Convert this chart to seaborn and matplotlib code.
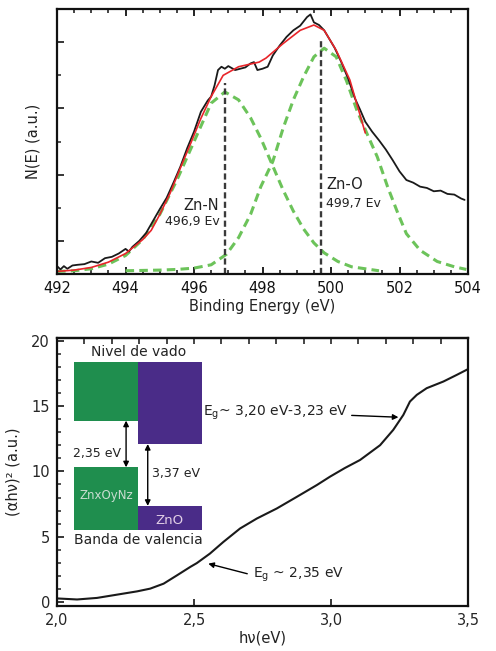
import numpy as np
import pandas as pd
import matplotlib
matplotlib.use("Agg")
import matplotlib.pyplot as plt
import seaborn as sns
from matplotlib.ticker import MultipleLocator, FixedLocator, FuncFormatter
from matplotlib.patches import Rectangle

# --- top panel: XPS spectrum ---
be_exp = [492.0, 492.1, 492.2, 492.3, 492.45, 492.6, 492.8, 493.0, 493.2, 493.4, 493.6, 493.8,
          494.0, 494.1, 494.2, 494.4, 494.6, 494.8, 495.0, 495.2, 495.4, 495.6, 495.8, 496.0,
          496.2, 496.4, 496.5, 496.6, 496.7, 496.8, 496.9, 497.0, 497.2, 497.35, 497.5, 497.65,
          497.75, 497.85, 498.0, 498.15, 498.3, 498.5, 498.7, 498.9, 499.1, 499.3, 499.4, 499.5,
          499.65, 499.8, 499.95, 500.1, 500.3, 500.5, 500.7, 500.85, 501.0, 501.2, 501.4, 501.6,
          501.8, 502.0, 502.2, 502.4, 502.6, 502.8, 503.0, 503.2, 503.4, 503.6, 503.8, 503.9]
n_exp = [0.12, 0.07, 0.12, 0.08, 0.13, 0.14, 0.15, 0.19, 0.17, 0.24, 0.26, 0.31,
         0.38, 0.34, 0.41, 0.50, 0.62, 0.80, 0.98, 1.15, 1.38, 1.62, 1.90, 2.15,
         2.45, 2.62, 2.68, 2.85, 3.08, 3.13, 3.10, 3.14, 3.08, 3.10, 3.12, 3.18,
         3.20, 3.08, 3.10, 3.13, 3.30, 3.45, 3.58, 3.68, 3.75, 3.88, 3.92, 3.80,
         3.76, 3.68, 3.55, 3.42, 3.20, 2.95, 2.65, 2.48, 2.30, 2.15, 2.02, 1.88,
         1.72, 1.55, 1.42, 1.38, 1.32, 1.30, 1.25, 1.26, 1.21, 1.20, 1.14, 1.12]

be_fit = [492.0, 492.5, 493.0, 493.5, 494.0, 494.5, 494.75, 495.0, 495.3, 495.6, 495.9, 496.2,
          496.5, 496.85, 497.3, 497.9, 498.1, 498.6, 499.1, 499.5, 499.8, 500.15, 500.55, 501.0]
n_fit = [0.04, 0.06, 0.10, 0.18, 0.31, 0.52, 0.66, 0.90, 1.22, 1.60, 1.97, 2.35,
         2.68, 3.00, 3.13, 3.20, 3.26, 3.48, 3.68, 3.76, 3.68, 3.38, 2.93, 2.13]

be_znn = [492.0, 492.5, 493.0, 493.5, 494.0, 494.5, 495.0, 495.5, 496.0, 496.5, 496.9, 497.3,
          497.65, 497.95, 498.3, 498.6, 498.9, 499.2, 499.5, 499.8, 500.2, 500.6, 501.0, 501.4]
n_znn = [0.04, 0.05, 0.08, 0.15, 0.28, 0.52, 0.90, 1.42, 2.00, 2.58, 2.75, 2.63,
         2.36, 2.05, 1.63, 1.27, 0.95, 0.68, 0.47, 0.32, 0.19, 0.11, 0.08, 0.05]

be_zno = [494.0, 495.0, 495.5, 496.0, 496.5, 496.95, 497.3, 497.65, 497.95, 498.3, 498.6, 498.9,
          499.2, 499.5, 499.8, 500.15, 500.45, 500.75, 501.05, 501.35, 501.65, 501.95, 502.2,
          502.6, 503.1, 503.6, 503.95]
n_zno = [0.05, 0.06, 0.07, 0.09, 0.14, 0.30, 0.55, 0.90, 1.32, 1.70, 2.20, 2.63,
         2.98, 3.28, 3.41, 3.28, 2.92, 2.48, 2.12, 1.77, 1.32, 0.92, 0.61,
         0.36, 0.19, 0.11, 0.07]

peak_pos = [496.9, 499.7]
peak_top = [2.88, 3.53]

# --- bottom panel: Tauc plot ---
hv = [2.0, 2.073, 2.146, 2.219, 2.292, 2.34, 2.389, 2.438, 2.487, 2.51, 2.558, 2.607, 2.668,
      2.729, 2.802, 2.875, 2.948, 2.996, 3.05, 3.106, 3.179, 3.227, 3.264, 3.288, 3.313,
      3.349, 3.41, 3.459, 3.5]
ahv2 = [0.28, 0.20, 0.32, 0.57, 0.82, 1.03, 1.41, 2.05, 2.70, 2.98, 3.71, 4.60, 5.63,
        6.39, 7.16, 8.05, 8.95, 9.59, 10.25, 10.87, 12.0, 13.17, 14.32, 15.34, 15.85,
        16.36, 16.87, 17.38, 17.82]

sns.set_style("white")
plt.rcParams['font.family'] = ['DejaVu Sans']

fig = plt.figure(figsize=(4.96, 6.51), dpi=100)
ax1 = fig.add_axes([0.115, 0.579, 0.8286, 0.407])
ax2 = fig.add_axes([0.115, 0.0691, 0.8286, 0.4117])

green = "#6cc35a"
sns.lineplot(x=be_znn, y=n_znn, ax=ax1, color=green, lw=2.2, ls=(0, (2.8, 1.7)), sort=False)
sns.lineplot(x=be_zno, y=n_zno, ax=ax1, color=green, lw=2.2, ls=(0, (2.8, 1.7)), sort=False)
sns.lineplot(x=be_exp, y=n_exp, ax=ax1, color="#1a1a1a", lw=1.3, sort=False)
sns.lineplot(x=be_fit, y=n_fit, ax=ax1, color="#e8252a", lw=1.2, sort=False)
ax1.vlines(peak_pos, 0, peak_top, colors="#3a3a3a", lw=1.7, linestyles=(0, (2.6, 1.4)))

ax1.text(496.72, 1.03, "Zn-N", ha="right", va="center", fontsize=10.5, color="#222")
ax1.text(496.76, 0.80, "496,9 Ev", ha="right", va="center", fontsize=9, color="#222")
ax1.text(499.87, 1.35, "Zn-O", ha="left", va="center", fontsize=10.5, color="#222")
ax1.text(499.85, 1.07, "499,7 Ev", ha="left", va="center", fontsize=9, color="#222")

ax1.set_xlim(492, 504)
ax1.set_ylim(0, 4)
ax1.xaxis.set_major_locator(MultipleLocator(2))
ax1.xaxis.set_minor_locator(MultipleLocator(0.5))
ax1.yaxis.set_major_locator(FixedLocator([0.5, 1.5, 2.5, 3.5]))
ax1.yaxis.set_minor_locator(FixedLocator([1, 2, 3]))
ax1.tick_params(axis="x", which="both", direction="in", top=True, bottom=True,
                labelsize=10.5, pad=5, colors="#111")
ax1.tick_params(axis="y", which="both", direction="in", left=True, right=False,
                labelleft=False)
ax1.tick_params(which="major", length=5, width=1.3)
ax1.tick_params(which="minor", length=3, width=1.1)
ax1.set_xlabel("Binding Energy (eV)", fontsize=10.5, labelpad=2, color="#222")
ax1.set_ylabel("N(E) (a.u.)", fontsize=10.5, labelpad=12, color="#222")

# bottom panel
sns.lineplot(x=hv, y=ahv2, ax=ax2, color="#1a1a1a", lw=1.5, sort=False)

g_col = "#1f8e4e"
p_col = "#4a2c88"
ax2.add_patch(Rectangle((2.062, 13.88), 2.2945 - 2.062, 18.36 - 13.88, color=g_col, lw=0))
ax2.add_patch(Rectangle((2.2945, 12.09), 2.530 - 2.2945, 18.36 - 12.09, color=p_col, lw=0))
ax2.add_patch(Rectangle((2.062, 5.55), 2.2945 - 2.062, 10.31 - 5.55, color=g_col, lw=0))
ax2.add_patch(Rectangle((2.2945, 5.55), 2.530 - 2.2945, 7.36 - 5.55, color=p_col, lw=0))

ax2.annotate("", xy=(2.252, 13.88), xytext=(2.252, 10.31),
             arrowprops=dict(arrowstyle="<|-|>", color="black", lw=1.0, mutation_scale=8,
                             shrinkA=0, shrinkB=0))
ax2.annotate("", xy=(2.331, 12.09), xytext=(2.331, 7.36),
             arrowprops=dict(arrowstyle="<|-|>", color="black", lw=1.0, mutation_scale=8,
                             shrinkA=0, shrinkB=0))

ax2.text(2.297, 19.1, "Nivel de vado", ha="center", va="center", fontsize=10, color="#222")
ax2.text(2.233, 11.38, "2,35 eV", ha="right", va="center", fontsize=9, color="#222")
ax2.text(2.345, 9.85, "3,37 eV", ha="left", va="center", fontsize=9, color="#222")
ax2.text(2.179, 8.13, "ZnxOyNz", ha="center", va="center", fontsize=8.5, color="#c9dcd0")
ax2.text(2.412, 6.27, "ZnO", ha="center", va="center", fontsize=9.5, color="#e2cfe6")
ax2.text(2.297, 4.78, "Banda de valencia", ha="center", va="center", fontsize=10, color="#222")

ax2.annotate(r"E$_\mathregular{g}$~ 3,20 eV-3,23 eV", xy=(3.246, 14.14), xytext=(2.534, 14.5),
             ha="left", va="center", fontsize=10, color="#222",
             arrowprops=dict(arrowstyle="-|>", color="black", lw=1.0, mutation_scale=8,
                             shrinkA=0, shrinkB=0, relpos=(1.0, 0.35)))
ax2.annotate(r"E$_\mathregular{g}$ ~ 2,35 eV", xy=(2.552, 2.94), xytext=(2.716, 2.05),
             ha="left", va="center", fontsize=10, color="#222",
             arrowprops=dict(arrowstyle="-|>", color="black", lw=1.0, mutation_scale=8,
                             shrinkA=2, shrinkB=0, relpos=(0.0, 0.5)))

ax2.set_xlim(2.0, 3.5)
ax2.set_ylim(-0.3, 20.2)
ax2.xaxis.set_major_locator(MultipleLocator(0.5))
ax2.yaxis.set_major_locator(MultipleLocator(5))
ax2.yaxis.set_minor_locator(MultipleLocator(1))
ax2.xaxis.set_major_formatter(FuncFormatter(lambda v, p: f"{v:.1f}".replace(".", ",")))
ax2.tick_params(axis="x", which="major", direction="in", bottom=True, top=False,
                length=5, width=1.3, labelsize=10.5, pad=5)
ax2.tick_params(axis="y", which="both", direction="in", left=True, right=False,
                labelsize=10.5, pad=5)
ax2.tick_params(axis="y", which="major", length=5, width=1.3)
ax2.tick_params(axis="y", which="minor", length=3, width=1.1)
top = ax2.secondary_xaxis("top")
top.xaxis.set_major_locator(MultipleLocator(0.1))
top.tick_params(direction="in", length=4, width=1.2, labeltop=False)
ax2.set_xlabel("hν(eV)", fontsize=10.5, labelpad=2, color="#222")
ax2.set_ylabel("(αhν)² (a.u.)", fontsize=10.5, labelpad=8, color="#222")

for ax in (ax1, ax2):
    for s in ax.spines.values():
        s.set_linewidth(1.6)
        s.set_color("#111")
top.spines["top"].set_linewidth(1.6)

fig.savefig("out.png", dpi=100)
